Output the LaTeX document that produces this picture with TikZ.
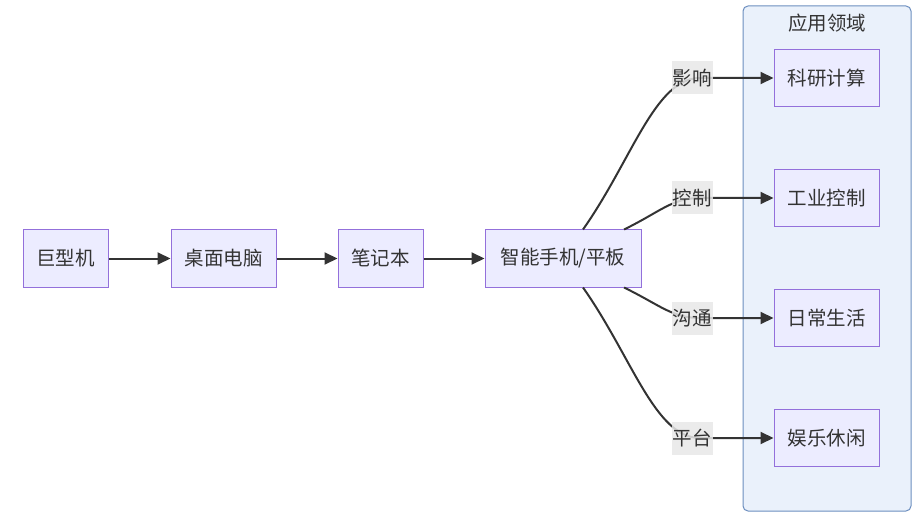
\documentclass[tikz,border=0pt]{standalone}
\usepackage{fontspec}
\setmainfont{Noto Sans CJK SC}
\usetikzlibrary{arrows.meta}
\definecolor{nodefill}{HTML}{ECECFF}
\definecolor{nodeline}{HTML}{9370DB}
\definecolor{clfill}{HTML}{EAF1FB}
\definecolor{clline}{HTML}{6C8EBF}
\definecolor{edgec}{HTML}{333333}
\definecolor{lblbg}{HTML}{E8E8E8}
\begin{document}
\begin{tikzpicture}[x=1pt,y=-1pt,
  every node/.style={font=\fontsize{19.5}{21}\selectfont, text=edgec},
  box/.style={draw=nodeline, fill=nodefill, line width=1pt, minimum height=57pt, inner sep=0pt},
  lbl/.style={fill=lblbg, fill opacity=0.85, text opacity=1, inner sep=1pt, minimum height=33pt},
  edge/.style={draw=edgec, line width=2pt, -{Triangle[length=13pt,width=12pt]}}]
\useasboundingbox (0,0) rectangle (922,532);
% cluster
\node[draw=clline, fill=clfill, line width=1pt, rounded corners=5pt, minimum width=168pt, minimum height=505pt, inner sep=0pt] (cl) at (827,258.5) {};
\node (cltitle) at (827,23) {应用领域};
% main chain
\node[box, minimum width=85pt] (a) at (65.5,258.5) {巨型机};
\node[box, minimum width=105pt] (b) at (223.5,258.5) {桌面电脑};
\node[box, minimum width=85pt] (c) at (380.5,258.5) {笔记本};
\node[box, minimum width=156pt] (d) at (563,258.5) {智能手机/平板};
% targets
\node[box, minimum width=105pt] (t1) at (826.5,78) {科研计算};
\node[box, minimum width=105pt] (t2) at (826.5,198) {工业控制};
\node[box, minimum width=105pt] (t3) at (826.5,318) {日常生活};
\node[box, minimum width=105pt] (t4) at (826.5,438) {娱乐休闲};
% straight edges
\draw[edge] (a) -- (b);
\draw[edge] (b) -- (c);
\draw[edge] (c) -- (d);
% curved edges
\coordinate (s1) at ([xshift=20pt]d.north);
\coordinate (s2) at ([xshift=61pt]d.north);
\coordinate (s3) at ([xshift=61pt]d.south);
\coordinate (s4) at ([xshift=20pt]d.south);
\draw[edge] (s1) .. controls (632,160) and (655,78) .. (700,78) -- (t1.west);
\draw[edge] (s2) .. controls (660,212) and (672,198) .. (700,198) -- (t2.west);
\draw[edge] (s3) .. controls (660,305) and (672,318) .. (700,318) -- (t3.west);
\draw[edge] (s4) .. controls (632,357) and (655,438) .. (700,438) -- (t4.west);
% labels
\node[lbl] (l1) at (692,78) {影响};
\node[lbl] (l2) at (692,198) {控制};
\node[lbl] (l3) at (692,318) {沟通};
\node[lbl] (l4) at (692,438) {平台};
\end{tikzpicture}
\end{document}
